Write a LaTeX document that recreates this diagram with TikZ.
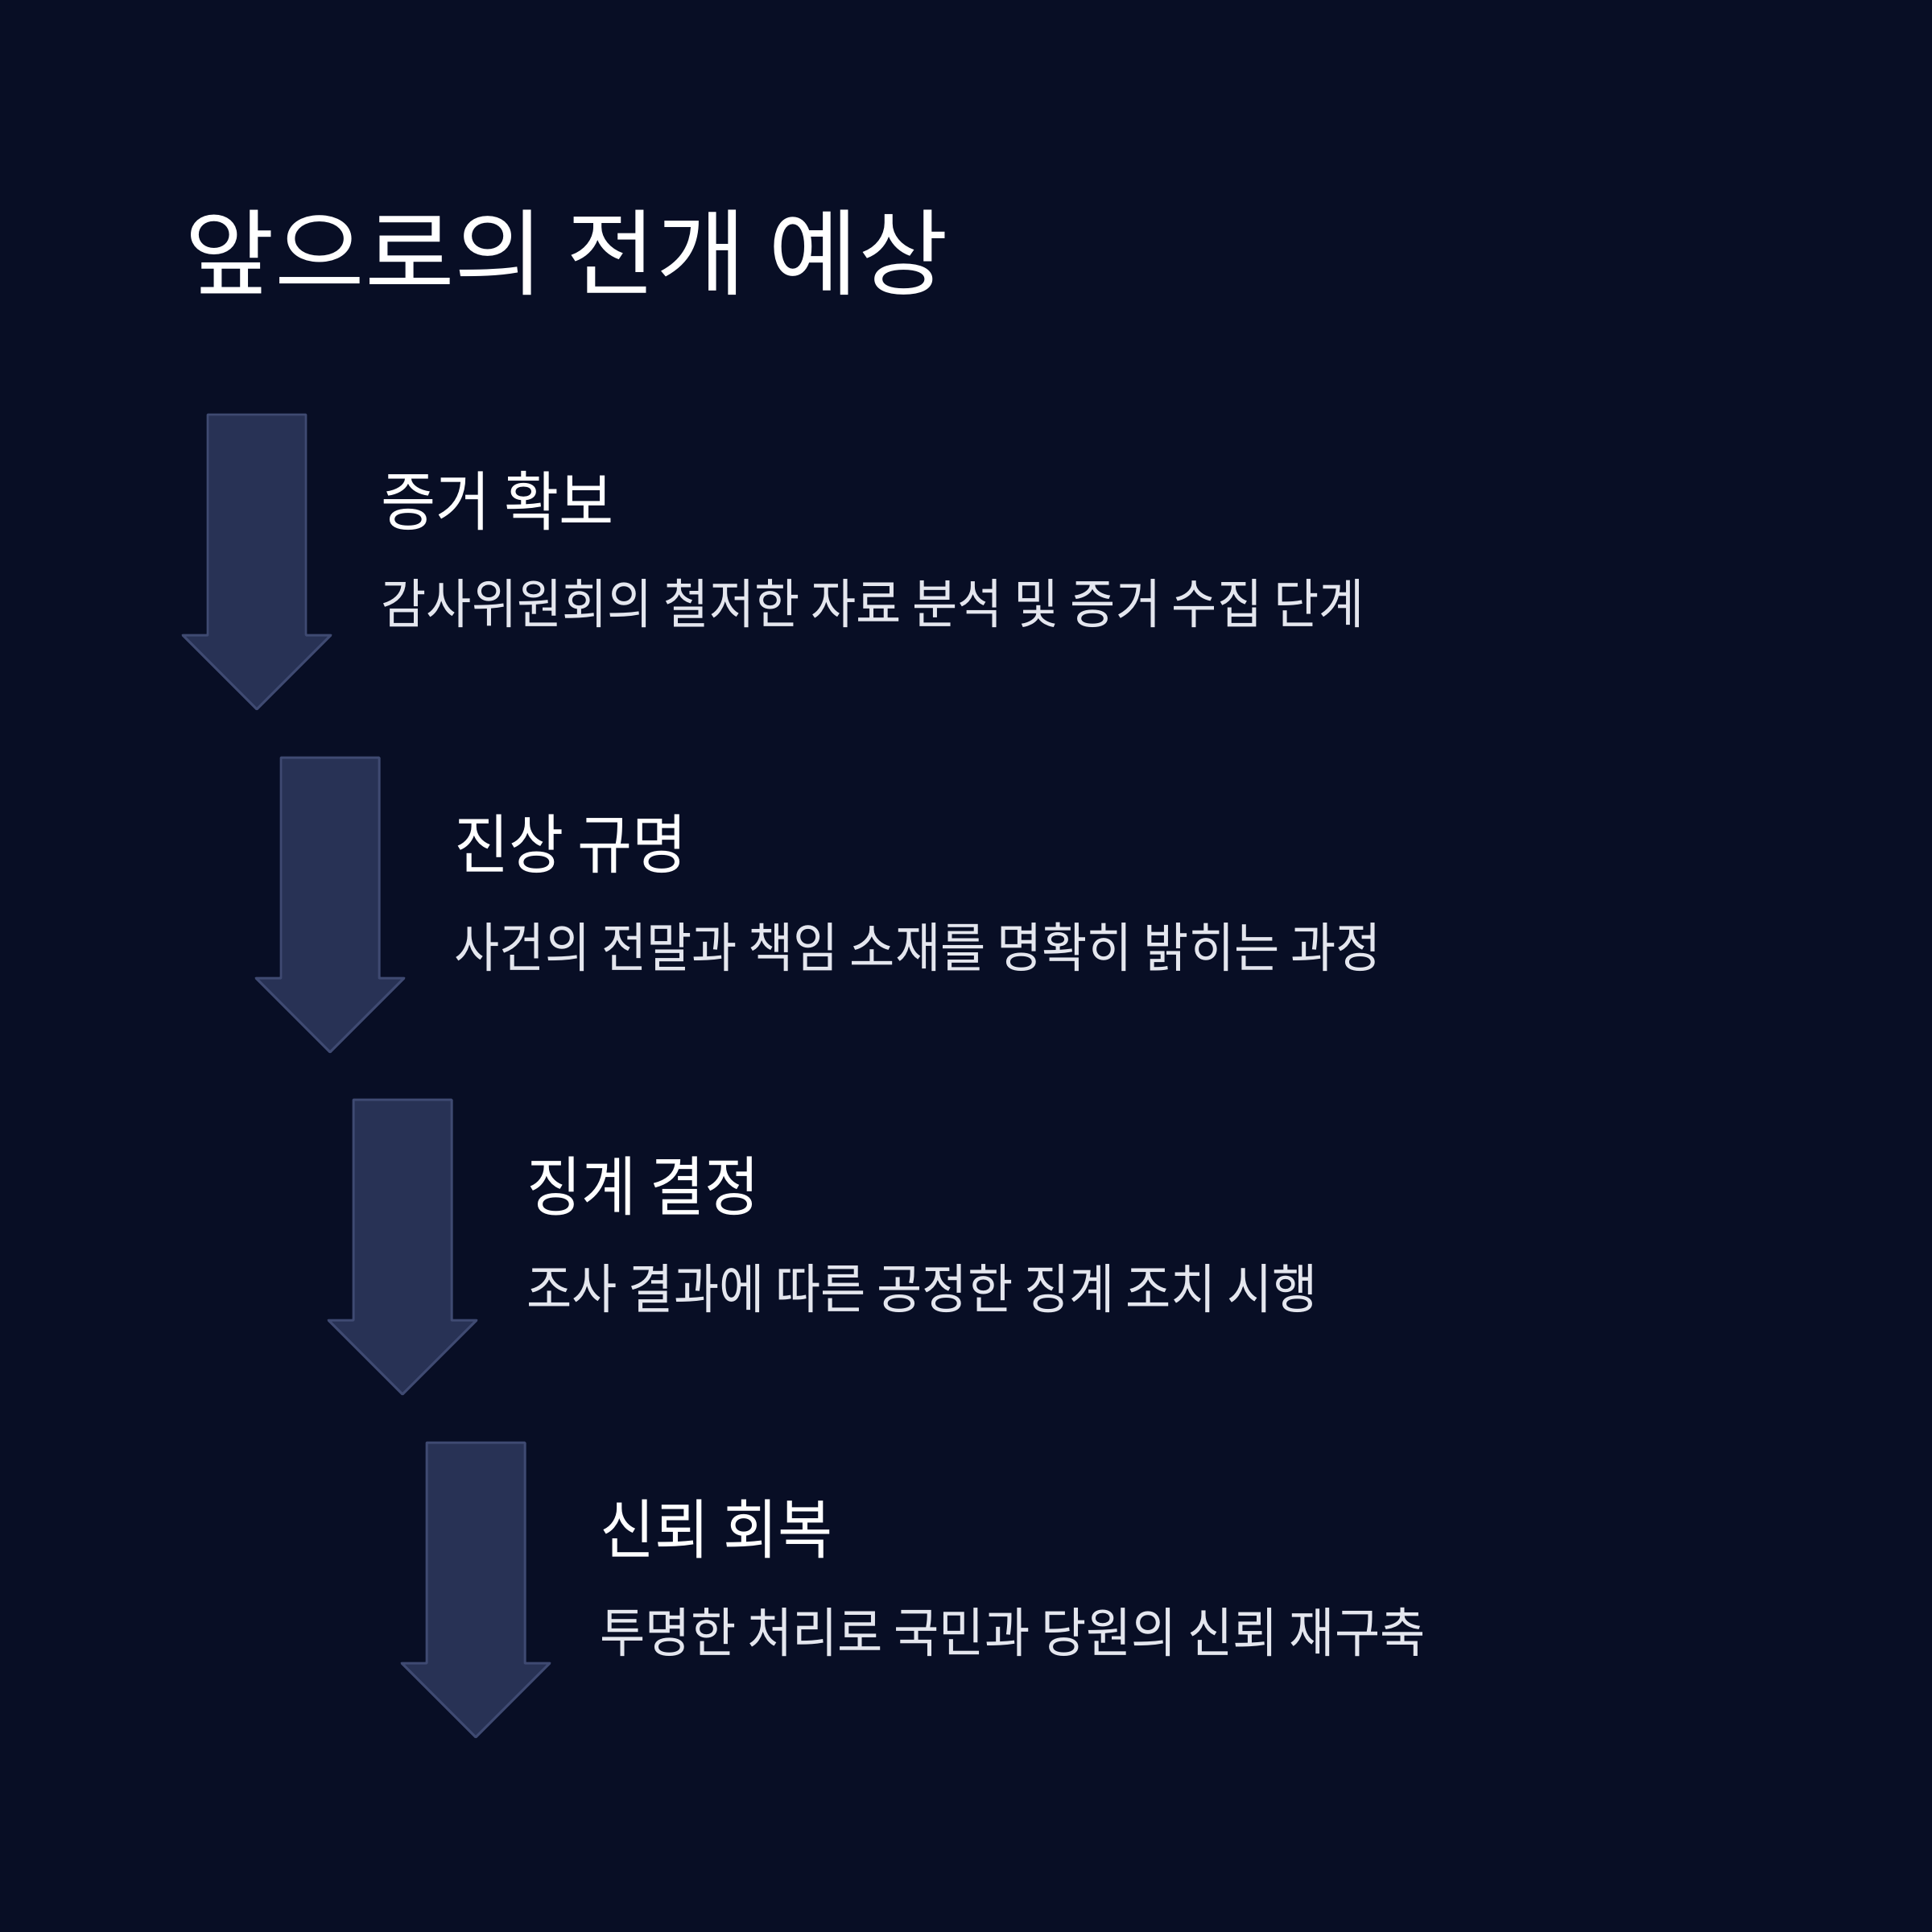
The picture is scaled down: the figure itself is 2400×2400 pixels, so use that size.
\documentclass[tikz,border=0pt]{standalone}
\usepackage{fontspec}
\setmainfont[FakeStretch=0.92]{Noto Sans CJK KR}
\newfontfamily\titlefont[FakeStretch=1.04]{Noto Sans CJK KR}
\usetikzlibrary{positioning}
\definecolor{bgnavy}{HTML}{080E25}
\definecolor{arrowfill}{HTML}{283255}
\definecolor{arrowline}{HTML}{3F4A72}
\definecolor{desctext}{HTML}{E4E6EE}
\tikzset{
  steparrow/.style={fill=arrowfill, draw=arrowline, line width=0.85pt, line join=round},
  heading/.style={anchor=west, inner sep=0pt, text=white, font=\fontsize{22.9}{27}\selectfont},
  desc/.style={anchor=west, inner sep=0pt, text=desctext, font=\fontsize{18.9}{23}\selectfont}
}

\begin{document}
\begin{tikzpicture}[x=0.01cm, y=-0.01cm]
    \fill[bgnavy] (0,0) rectangle (2400,2400);
    \useasboundingbox (0,0) rectangle (2400,2400);

    \node[anchor=west, inner sep=0pt, text=white, font=\titlefont\fontsize{33.2}{40}\selectfont] (title) at (229,314) {앞으로의 전개 예상};

    % step 1
    \draw[steparrow] (258,515) -- (380,515) -- (380,789) -- (411,789) -- (319,881) -- (227,789) -- (258,789) -- cycle;
    \node[heading] (head1) at (473,622) {증거 확보};
    \node[desc] (desc1) at (473,750) {감사위원회의 철저한 자료 분석 및 증거 수집 단계};

    % step 2
    \draw[steparrow] (349,941) -- (471,941) -- (471,1215) -- (502,1215) -- (410,1307) -- (318,1215) -- (349,1215) -- cycle;
    \node[heading] (head2) at (564,1048) {진상 규명};
    \node[desc] (desc2) at (564,1176) {사건의 전말과 책임 소재를 명확히 밝히는 과정};

    % step 3
    \draw[steparrow] (439,1366) -- (561,1366) -- (561,1640) -- (592,1640) -- (500,1732) -- (408,1640) -- (439,1640) -- cycle;
    \node[heading] (head3) at (654,1473) {징계 결정};
    \node[desc] (desc3) at (654,1601) {조사 결과에 따른 공정한 징계 조치 시행};

    % step 4
    \draw[steparrow] (530,1792) -- (652,1792) -- (652,2066) -- (683,2066) -- (591,2158) -- (499,2066) -- (530,2066) -- cycle;
    \node[heading] (head4) at (745,1899) {신뢰 회복};
    \node[desc] (desc4) at (745,2027) {투명한 처리로 국민과 당원의 신뢰 재구축};

  \end{tikzpicture}
\end{document}
